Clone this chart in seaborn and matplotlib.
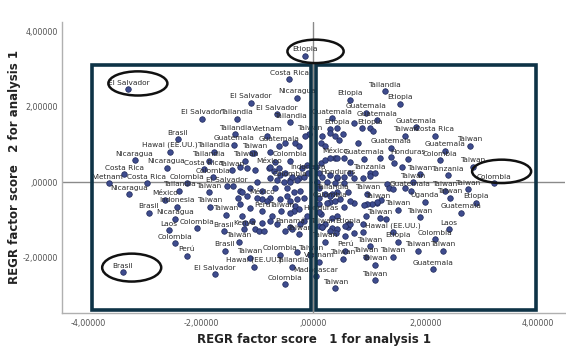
import numpy as np
import pandas as pd
import matplotlib.pyplot as plt
import seaborn as sns
from matplotlib.patches import Rectangle, Ellipse

# ================= data =================
# labelled cases: country, factor score 1, factor score 2
lab_names = [
    "Etiopia", "El Salvador", "Brasil", "Colombia",
    "Costa Rica", "Nicaragua", "El Salvador", "El Salvador", "El Salvador", "Tailandia",
    "Tailandia", "Brasil", "Tailandia", "Vietnam", "Hawai (EE.UU.)", "Tailandia",
    "Guatemala", "Guatemala", "Taiwan", "Taiwan", "Nicaragua", "Tailandia", "Taiwan",
    "Colombia", "Nicaragua", "Costa Rica", "Taiwan", "México", "Costa Rica", "Colombia",
    "Colombia", "Indonesia", "Vietnam", "Costa Rica", "Colombia", "El Salvador",
    "Nicaragua", "Tailandia", "Taiwan", "México", "México", "Brasil", "Indonesia",
    "Taiwan", "Nicaragua", "Taiwan", "Perú", "Taiwan", "Laos", "Colombia", "Brasil",
    "Kenya", "Panamá", "Colombia", "Taiwan", "Taiwan", "Perú", "Brasil", "Taiwan",
    "Colombia", "Taiwan", "Hawai (EE.UU.)", "Tailandia", "El Salvador", "Vietnam",
    "Madagascar", "Colombia", "Taiwan", "Honduras", "Taiwan", "Etiopia", "Honduras",
    "Tailandia", "Colombia", "México", "Tailandia", "Etiopia", "Etiopia", "Guatemala",
    "Guatemala", "Guatemala", "Etiopia", "Etiopia", "Guatemala", "Taiwan", "Costa Rica",
    "Guatemala", "Guatemala", "Taiwan", "Guatemala", "Honduras", "Colombia", "Taiwan",
    "Tanzania", "Taiwan", "Tanzania", "Taiwan", "Guatemala", "Taiwan", "Taiwan",
    "Taiwan", "Uganda", "Taiwan", "Etiopia", "Taiwan", "Taiwan", "Guatemala", "Taiwan",
    "Taiwan", "Hawai (EE.UU.)", "Laos", "Taiwan", "Etiopia", "Colombia", "Perú",
    "Taiwan", "Taiwan", "Taiwan", "Taiwan", "Taiwan", "Taiwan", "Taiwan", "Guatemala",
    "Taiwan",
]
lab_x = [
    -0.14, -3.29, -3.39, 3.21,
    -0.43, -0.29, -1.11, -0.64, -1.98, -1.36,
    -0.41, -2.41, -1.39, -0.82, -2.55, -1.77,
    -1.41, -0.61, -1.05, -0.07, -3.18, -1.86, -1.21,
    -0.41, -2.61, -1.95, -1.45, -0.79, -3.36, -1.79,
    -0.41, -0.09, -3.64, -2.96, -2.25, -1.54,
    -3.27, -2.38, -1.86, -2.64, -0.91, -2.93, -2.43,
    -1.84, -2.46, -1.55, -0.91, -0.57, -2.57, -2.07, -1.59,
    -1.23, -0.41, -2.46, -1.32, -0.25, -2.25, -1.57, -1.13,
    -0.59, -0.05, -1.05, -0.38, -1.75, 0.11,
    0.04, -0.50, 0.39, 0.13, 0.16, 0.61, 0.43,
    0.34, 0.29, 0.38, 1.27, 0.66, 1.55, 0.93,
    1.14, 0.34, 0.43, 1.00, 1.82, 1.64, 2.16,
    1.38, 2.34, 2.79, 0.91, 1.68, 2.25, 2.84,
    1.00, 1.89, 2.39, 1.77, 1.73, 2.34, 2.75,
    0.96, 1.98, 2.43, 2.89, 1.14, 1.50, 2.63, 1.18,
    1.89, 1.41, 2.41, 0.20, 1.50, 2.16, 0.57,
    1.00, 0.52, 0.93, 1.41, 1.86, 2.30, 1.09, 2.13,
    1.09,
]
lab_y = [
    3.36, 2.46, -2.38, -0.03,
    2.73, 2.24, 2.11, 1.81, 1.68, 1.68,
    1.59, 1.14, 1.27, 1.24, 0.81, 0.81,
    1.00, 0.97, 0.78, 1.27, 0.59, 0.57, 0.57,
    0.57, 0.38, 0.35, 0.32, 0.38, 0.22, 0.14,
    0.05, 0.24, -0.03, -0.03, -0.03, -0.11,
    -0.32, -0.22, -0.27, -0.46, -0.43, -0.81, -0.65,
    -0.65, -0.97, -0.86, -0.76, -0.76, -1.27, -1.22, -1.30,
    -1.24, -1.19, -1.62, -1.57, -1.38, -1.95, -1.81, -2.00,
    -1.92, -1.92, -2.24, -2.24, -2.43, -2.11,
    -2.49, -2.70, -2.81, -0.84, -1.19, -1.19, 0.11,
    -0.30, -0.51, 0.65, 2.41, 2.19, 2.08, 1.84,
    1.65, 1.70, 1.43, 1.43, 1.46, 1.24, 1.24,
    0.92, 0.84, 0.97, 0.62, 0.62, 0.59, 0.41,
    0.24, 0.22, 0.19, 0.00, -0.22, -0.22, -0.19,
    -0.30, -0.51, -0.41, -0.54, -0.54, -0.73, -0.81, -0.95,
    -0.92, -1.32, -1.24, -1.57, -1.57, -1.51, -1.81,
    -1.70, -2.03, -1.97, -1.97, -1.81, -1.81, -2.19, -2.30,
    -2.59,
]

# cases whose labels are hidden behind others (dense centre)
extra_x = [
    -0.14, -0.32, -0.25, 0.16, 0.29, 0.30, 0.39, 0.46, 0.52, 0.13, 0.21, -0.50,
    -1.09, -0.77, -0.68, -1.30, -1.18, -1.04, -0.77, -0.70, -0.61, -0.59, -0.50,
    -0.38, -0.25, -0.16, -0.20, -0.11, -0.29, -0.41, -0.52, -0.64, -0.77, -1.00,
    -1.13, -1.30, -0.91, -0.68, -0.46, -0.34, -0.23, -0.16, -0.46, -0.59, -0.77,
    -1.00, -1.18, 0.04, 0.13, 0.21, 0.30, 0.43, 0.55, 0.66, 0.11, 0.16, 0.30,
    0.43, 0.55, 0.66, 0.07, 0.25, 0.38, 0.55, 0.11, 0.20, 0.43, 0.61, 0.11,
    -1.30, -1.13, -0.82, -0.41, -0.29, -0.32, -0.25, -0.34, -0.41, -1.27, -1.21,
    -1.09, -0.91, -1.04, -0.96, -0.88, -0.73, -0.77, -0.64, -0.50, -0.38, -0.23,
    -0.16, -0.11, 0.11, 0.25, 0.39, 0.48, 0.11, 0.21, 0.34, 0.43, 0.61, 0.73,
    0.34, 0.43, 1.43, 1.57, 1.09, 1.00, 0.88, 0.73, 1.32, 1.34, 1.41, 1.64,
    1.20, 1.14, 1.05, 0.96, 0.91, 0.73, 0.66, 0.55, 0.30, 0.11, 1.30, 0.93,
    0.88, 0.66, 0.57, 0.41, 0.30, 0.16, 0.88, 0.57, 0.73, 0.86, 1.07, 0.80,
    1.18, 1.38, -1.43, -1.27, -1.34, -0.29,
]
extra_y = [
    1.24, 1.05, 0.97, 1.24, 1.41, 1.30, 1.22, 1.11, 1.27, 1.05, 0.97, 1.05,
    0.78, 0.81, 0.54, 0.41, 0.38, 0.32, 0.41, 0.30, 0.38, 0.19, 0.24,
    0.14, 0.11, 0.14, 0.38, 0.46, 0.05, 0.00, 0.00, 0.05, 0.11, 0.00,
    -0.16, -0.22, -0.22, -0.16, -0.16, -0.27, -0.22, -0.41, -0.35, -0.43, -0.41,
    -0.41, -0.35, 0.41, 0.51, 0.59, 0.65, 0.65, 0.65, 0.54, 0.24, 0.14, 0.19,
    0.14, 0.14, 0.24, 0.00, 0.00, -0.03, -0.03, -0.16, -0.30, -0.27, -0.27, -0.41,
    -0.57, -0.68, -0.49, -0.49, -0.43, -0.62, -0.70, -0.76, -0.81, -0.89, -1.08,
    -1.03, -1.08, -1.24, -1.30, -1.30, -0.89, -1.03, -1.11, -1.30, -1.24, -1.11,
    -1.03, -0.89, -0.57, -0.54, -0.49, -0.43, -1.16, -1.11, -1.22, -1.24, -1.11, -1.35,
    -0.95, -0.89, 0.51, 0.41, 0.24, 0.16, 0.11, 0.11, -0.05, -0.16, -0.19, -0.16,
    -0.46, -0.51, -0.57, -0.57, -0.59, -0.54, -0.49, -0.65, -0.35, -0.78, -0.97, -0.89,
    -1.11, -1.11, -1.16, -1.35, -1.30, -1.19, -1.32, -1.41, 1.57, 1.43, 1.35, 1.05,
    0.65, 0.68, -0.11, -0.27, -0.41, -1.84,
]

x_ticks = [-4, -2, 0, 2, 4]
x_tick_labels = ["-4,00000", "-2,00000", ",00000", "2,00000", "4,00000"]
y_ticks = [-2, 0, 2, 4]
y_tick_labels = ["-2,00000", ",00000", "2,00000", "4,00000"]

# ================= plot =================
df = pd.DataFrame({
    "f1": lab_x + extra_x,
    "f2": lab_y + extra_y,
})

sns.set_style("white")
plt.rcParams['font.family'] = ['DejaVu Sans']

fig = plt.figure(figsize=(5.66, 3.48), dpi=100)
ax = fig.add_axes([0.1095, 0.102, 0.889, 0.835])

# reference lines at the origin
ax.axhline(0, color="#8a8a8a", lw=1.0, zorder=1)
ax.axvline(0, color="#8a8a8a", lw=1.0, zorder=1)

sns.scatterplot(data=df, x="f1", y="f2", ax=ax, color="#3e4c8e",
                edgecolor="#1e2858", linewidth=0.5, s=16, zorder=3)

for name, x, y in zip(lab_names, lab_x, lab_y):
    ax.annotate(name, (x, y), xytext=(0, 2.5), textcoords="offset points",
                ha="center", va="bottom", fontsize=5.3, color="#2a2a2a", zorder=4)

ax.set_xlim(-4.47, 4.48)
ax.set_ylim(-3.45, 4.25)
ax.set_xticks(x_ticks)
ax.set_xticklabels(x_tick_labels)
ax.set_yticks(y_ticks)
ax.set_yticklabels(y_tick_labels)
ax.tick_params(length=0, labelsize=5.8, labelcolor="#555555", pad=5)
ax.tick_params(axis="y", pad=3)

for side in ["top", "right"]:
    ax.spines[side].set_visible(False)
for side in ["left", "bottom"]:
    ax.spines[side].set_color("#b0b0b0")
    ax.spines[side].set_linewidth(1.0)

ax.set_xlabel("REGR factor score   1 for analysis 1", fontsize=8.5,
              fontweight="bold", color="#222222", labelpad=3)
ax.set_ylabel("REGR factor score   2 for analysis 1", fontsize=8.5,
              fontweight="bold", color="#222222", labelpad=1)

# overlaid quadrant boxes and highlighted outliers
box_color = "#0e3346"
ax.add_patch(Rectangle((-3.93, -3.39), 3.89, 6.51, fill=False, ec=box_color,
                       lw=2.6, zorder=5))
ax.add_patch(Rectangle((0.05, -3.39), 3.92, 6.51, fill=False, ec=box_color,
                       lw=2.6, zorder=5))
for cx, cy, w, h in [(-3.12, 2.62, 1.05, 0.64), (-3.23, -2.26, 1.05, 0.74),
                     (0.04, 3.47, 1.0, 0.62), (3.35, 0.29, 1.05, 0.62)]:
    ax.add_patch(Ellipse((cx, cy), w, h, fill=False, ec="#111111", lw=1.8, zorder=5))

plt.savefig("out.png", dpi=100)
